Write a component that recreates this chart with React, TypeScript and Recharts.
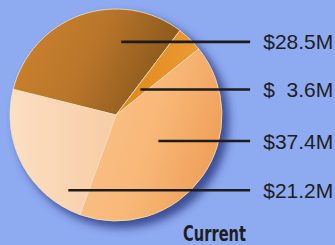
import React from 'react';
import { PieChart, Pie, Cell } from 'recharts';

const segments = ['Segment A', 'Segment B', 'Segment C', 'Segment D'];
const values = [28.5, 3.6, 37.4, 21.2];
const valueLabels = ['$28.5M', '$  3.6M', '$37.4M', '$21.2M'];
const chartTitle = 'Current';

const data = segments.map((name, i) => ({ name, value: values[i], label: valueLabels[i] }));

const W = 335;
const H = 245;
const BG = '#8eaaf1';

// layout of the call-out rows, as fractions of the pie radius
const ROW_Y = [-0.69, -0.24, 0.245, 0.71];
const START_X = [0.05, 0.23, 0.4, -0.45];
const LINE_END_X = 1.265;
const TEXT_END_X = 2.05;

const gradIds = ['g0', 'g1', 'g2', 'g3'];

const renderLabel = (props: any) => {
  const { cx, cy, outerRadius, index } = props;
  const y = cy + ROW_Y[index] * outerRadius;
  const x1 = cx + START_X[index] * outerRadius;
  const x2 = cx + LINE_END_X * outerRadius;
  const tx = cx + TEXT_END_X * outerRadius;
  return (
    <g key={'lbl' + index}>
      <line x1={x1} y1={y} x2={x2} y2={y} stroke="#1c1c1c" strokeWidth={2.6} />
      <text
        x={tx}
        y={y + 7.6}
        textAnchor="end"
        fill="#1e1e22"
        fontFamily="'Liberation Sans', Arial, sans-serif"
        fontSize={21}
        style={{ whiteSpace: 'pre' }}
        xmlSpace="preserve"
      >
        {data[index].label}
      </text>
    </g>
  );
};

export default function App() {
  return (
    <div style={{ position: 'fixed', left: 0, top: 0, width: W, height: H, background: BG }}>
      <PieChart width={W} height={H} margin={{ top: 0, right: 0, bottom: 0, left: 0 }}>
        <defs>
          <filter id="shadowBlur" x="-20%" y="-20%" width="140%" height="140%">
            <feGaussianBlur stdDeviation="4" />
          </filter>
          <linearGradient id="g0" x1="0" y1="0" x2="1" y2="0.3">
            <stop offset="0%" stopColor="#d0842e" />
            <stop offset="55%" stopColor="#b8752a" />
            <stop offset="100%" stopColor="#8a581c" />
          </linearGradient>
          <linearGradient id="g1" x1="0" y1="0" x2="1" y2="0">
            <stop offset="0%" stopColor="#df8618" />
            <stop offset="100%" stopColor="#ec9a36" />
          </linearGradient>
          <linearGradient id="g2" x1="0" y1="0" x2="1" y2="0.4">
            <stop offset="0%" stopColor="#fac48e" />
            <stop offset="60%" stopColor="#f8b878" />
            <stop offset="100%" stopColor="#f0a25c" />
          </linearGradient>
          <linearGradient id="g3" x1="0" y1="0" x2="1" y2="0">
            <stop offset="0%" stopColor="#fcdfc2" />
            <stop offset="100%" stopColor="#f7cca6" />
          </linearGradient>
        </defs>
        <Pie
          data={[{ name: 'shadow', value: 1 }]}
          dataKey="value"
          cx={122}
          cy={121}
          outerRadius={107}
          startAngle={0}
          endAngle={360}
          stroke="none"
          isAnimationActive={false}
          label={false}
          labelLine={false}
        >
          <Cell fill="#33428a" fillOpacity={0.9} filter="url(#shadowBlur)" />
        </Pie>
        <Pie
          data={data}
          dataKey="value"
          nameKey="name"
          cx={116}
          cy={115}
          outerRadius={106}
          startAngle={166}
          endAngle={-194}
          stroke="#f4e3bc"
          strokeWidth={0.8}
          isAnimationActive={false}
          label={renderLabel}
          labelLine={false}
        >
          {data.map((d, i) => (
            <Cell key={d.name} fill={`url(#${gradIds[i]})`} />
          ))}
        </Pie>
        <text
          x={183}
          y={241}
          fill="#1e1e22"
          fontFamily="'DejaVu Sans', sans-serif"
          fontWeight="bold"
          fontSize={21}
          textLength={63}
          lengthAdjust="spacingAndGlyphs"
        >
          {chartTitle}
        </text>
      </PieChart>
    </div>
  );
}
